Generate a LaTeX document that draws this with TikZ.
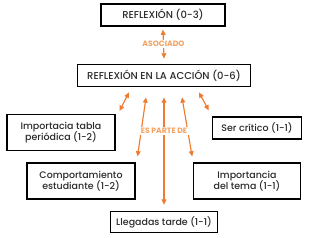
\documentclass[tikz,border=0pt]{standalone}
\usepackage{fontspec}
\setmainfont{Poppins}[UprightFont={* Medium}, BoldFont={* Bold}]
\usepackage[dvipsnames,svgnames,x11names]{xcolor}
\definecolor{mapline}{HTML}{F07A2E}
\definecolor{maplabel}{HTML}{F5A261}
\definecolor{maptext}{HTML}{2B2B2B}
\usepackage{tikz}
\usetikzlibrary{positioning,arrows.meta,calc}

\begin{document}
\begin{tikzpicture}[
  x=0.75pt, y=-0.75pt,
  box/.style={draw, line width=0.8pt, text=maptext, align=center,
              font=\fontsize{7.1}{8.6}\selectfont, inner sep=1pt},
  capsbox/.style={box, font=\fontsize{7.5}{9}\selectfont},
  arr/.style={{Triangle[length=4pt,width=3.5pt]}-{Triangle[length=4pt,width=3.5pt]},
              line width=0.85pt, mapline},
  lbl/.style={fill=white, text=maplabel, inner sep=1pt,
              font=\fontsize{5.8}{6.5}\selectfont\bfseries},
]
  \useasboundingbox (0,0) rectangle (325,238);

  % top concepts
  \node[capsbox, minimum width=93pt, minimum height=16.5pt] (refl) at (163,15)
    {REFLEXIÓN (0-3)};
  \node[capsbox, minimum width=130pt, minimum height=17pt] (accion) at (164,75.5)
    {REFLEXIÓN EN LA ACCIÓN (0-6)};

  % parts
  \node[box, minimum width=81pt, minimum height=27pt] (tabla) at (61,132.5)
    {Importacia tabla\\periódica (1-2)};
  \node[box, minimum width=67pt, minimum height=16.5pt] (critico) at (257,128)
    {Ser crítico (1-1)};
  \node[box, minimum width=81pt, minimum height=27pt] (comport) at (81,181)
    {Comportamiento\\estudiante (1-2)};
  \node[box, minimum width=80pt, minimum height=27pt] (tema) at (247,181)
    {Importancia\\del tema (1-1)};
  \node[box, minimum width=80pt, minimum height=16pt] (tarde) at (164,222)
    {Llegadas tarde (1-1)};

  % Arrows
  \draw[arr] ($(refl.south)+(0,3)$) -- node[lbl]{ASOCIADO} ($(accion.north)+(0,-5)$);
  \draw[arr] ($(accion.south)+(-35,5)$) -- ($(tabla.north east)+(4,-3)$);
  \draw[arr] ($(accion.south)+(35,5)$) -- ($(critico.north west)+(-3,-6)$);
  \draw[arr] ($(accion.south)+(-18,10)$) -- ($(comport.north east)+(2,-6)$);
  \draw[arr] ($(accion.south)+(18,10)$) -- ($(tema.north west)+(-1,-6)$);
  \draw[arr] ($(accion.south)+(0,10)$) -- node[lbl, pos=0.31]{ES PARTE DE} ($(tarde.north)+(0,-6)$);
\end{tikzpicture}
\end{document}
